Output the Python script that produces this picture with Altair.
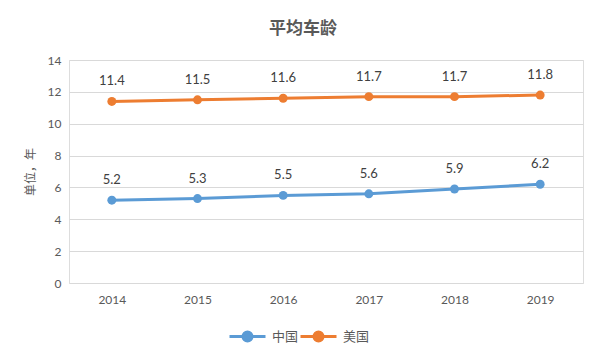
import altair as alt
import pandas as pd

years = ["2014", "2015", "2016", "2017", "2018", "2019"]
china = [5.2, 5.3, 5.5, 5.6, 5.9, 6.2]
usa = [11.4, 11.5, 11.6, 11.7, 11.7, 11.8]
series = ["中国", "美国"]
colors = ["#5B9BD5", "#ED7D31"]

rows = []
for name, vals in zip(series, [china, usa]):
    for y, v in zip(years, vals):
        rows.append({"year": y, "value": v, "series": name, "label": f"{v:.1f}"})
df = pd.DataFrame(rows)

num_font = "Lato"
cjk_font = "Noto Sans CJK SC"

legend_path = "M-1,0H1 M-0.25,0 A0.25,0.25 0 1,0 0.25,0 A0.25,0.25 0 1,0 -0.25,0 Z"

x = alt.X("year:N", title=None,
          scale=alt.Scale(paddingInner=0, paddingOuter=0.5),
          axis=alt.Axis(labelAngle=0, ticks=False, domain=False, grid=False,
                        labelFont=num_font, labelFontSize=12, labelColor="#595959",
                        labelPadding=11))
y = alt.Y("value:Q", title="单位，年",
          scale=alt.Scale(domain=[0, 14]),
          axis=alt.Axis(values=[0, 2, 4, 6, 8, 10, 12, 14], ticks=False, domain=False,
                        gridColor="#D9D9D9", gridWidth=1,
                        labelFont=num_font, labelFontSize=12, labelColor="#595959",
                        labelPadding=8,
                        titleFont=cjk_font, titleFontSize=12, titleColor="#595959",
                        titleFontWeight="normal", titlePadding=10))
color = alt.Color("series:N", scale=alt.Scale(domain=series, range=colors),
                  legend=alt.Legend(title=None, orient="none", direction="horizontal",
                                    legendX=159, legendY=257,
                                    symbolType=legend_path, symbolSize=1296,
                                    symbolStrokeWidth=3,
                                    labelFont=cjk_font, labelFontSize=13,
                                    labelColor="#595959", labelOffset=5,
                                    columnPadding=-6))

base = alt.Chart(df).encode(x=x, y=y, color=color)

lines = base.mark_line(strokeWidth=3)
points = base.mark_point(filled=True, size=80, opacity=1)
labels = base.mark_text(dy=-20, fontSize=13, font=num_font, color="#404040").encode(
    text="label:N", color=alt.value("#404040"))

chart = alt.layer(lines, points, labels).properties(
    width=514, height=223,
    autosize=alt.AutoSizeParams(type="none"),
    padding={"left": 61, "top": 52, "right": 11, "bottom": 71},
    title=alt.TitleParams("平均车龄", font=cjk_font, fontSize=17, fontWeight="bold",
                          color="#595959", dx=-23, offset=16, anchor="middle"),
).configure_view(stroke=None).configure(background="white")

chart.save("out.html", embed_options={"renderer": "svg", "actions": False})
